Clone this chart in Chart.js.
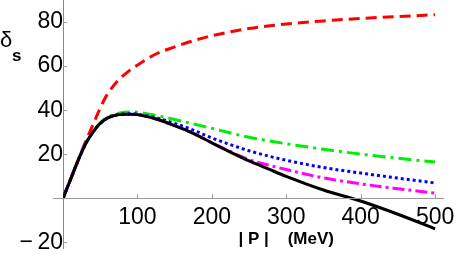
<!DOCTYPE html>
<html>
<head>
<meta charset="utf-8">
<script src="https://cdn.jsdelivr.net/npm/chart.js@4/dist/chart.umd.min.js"></script>
<style>
html,body{margin:0;padding:0;background:#fff;}
#wrap{width:456px;height:254px;position:relative;}
</style>
</head>
<body>
<div id="wrap"><canvas id="c" width="456" height="254"></canvas></div>
<script>
const momenta = [0,10,20,30,40,50,60,75,90,100,125,150,175,200,225,250,275,300,350,400,450,500];
const deltaBlack   = [0,8.5,17,24.5,30,34,36.5,38,38.2,38,36,33,29.5,25.2,21,17,13.5,10,3.8,-1.2,-7.2,-13.8];
const deltaRed     = [0,8.5,17,25.5,33.2,41,47.5,53.8,58.2,60.5,65.5,68.7,71.5,73.8,75.6,77.1,78.2,79.1,80.5,81.6,82.5,83.3];
const deltaGreen   = [0,8.5,17,24.5,30,34.2,36.8,38.6,39.2,39.1,37.6,35.8,33.8,31.8,29.7,27.7,26.2,24.8,22.3,20.1,18.2,16.5];
const deltaBlue    = [0,8.5,17,24.5,30,34,36.5,38.1,38.4,38.2,36.6,34,31,27.4,24.4,21.6,19.3,17.3,14,11.5,9.2,7];
const deltaMagenta = [0,8.5,17,24.5,30,34,36.5,38,38.2,38,36,33,29.5,25.2,21.2,17.6,15.2,13.1,9.3,6.6,4.4,2.4];
const xTickValues = [100,200,300,400,500];
const yTickValues = [-20,20,40,60,80];
const xTitle = '| P |    (MeV)';
const yTitleMain = 'δ';
const yTitleSub = 's';

function pts(ys){ return momenta.map((x,i)=>({x:x,y:ys[i]})); }
function ds(ys,color,dash){
  return {data:pts(ys),borderColor:color,borderWidth:3,borderDash:dash,pointRadius:0,
          fill:false,cubicInterpolationMode:'monotone',borderCapStyle:'butt'};
}
const FONT = '"Liberation Sans", Arial, Helvetica, sans-serif';

function noSpace(horizontal){
  return function(s){
    if (horizontal) s.height = 0; else s.width = 0;
    s.paddingTop = 0; s.paddingBottom = 0; s.paddingLeft = 0; s.paddingRight = 0;
  };
}

const decor = {
  id:'decor',
  afterDraw(chart){
    const ctx = chart.ctx, xs = chart.scales.x, ys = chart.scales.y;
    const x0 = xs.getPixelForValue(0), y0 = ys.getPixelForValue(0);
    ctx.save();
    ctx.strokeStyle = '#999'; ctx.lineWidth = 1;
    ctx.beginPath();
    ctx.moveTo(x0-10, Math.round(y0)+0.5); ctx.lineTo(chart.chartArea.right, Math.round(y0)+0.5);
    ys.ticks.forEach(t=>{ const p=Math.round(ys.getPixelForValue(t.value))+0.5; ctx.moveTo(x0,p); ctx.lineTo(x0+4,p); });
    xs.ticks.forEach(t=>{ const p=Math.round(xs.getPixelForValue(t.value))+0.5; ctx.moveTo(p,y0); ctx.lineTo(p,y0-4); });
    ctx.stroke();
    ctx.fillStyle = '#000';
    ctx.font = 'bold 17px ' + FONT;
    ctx.textAlign = 'center'; ctx.textBaseline = 'middle';
    ctx.fillText(xTitle, xs.getPixelForValue(300), chart.chartArea.bottom - 9);
    ctx.textAlign = 'left';
    ctx.font = '22px ' + FONT;
    ctx.fillText(yTitleMain, 0, ys.getPixelForValue(71.5));
    ctx.font = 'bold 17px ' + FONT;
    ctx.fillText(yTitleSub, 12, ys.getPixelForValue(64.5));
    ctx.restore();
  }
};

new Chart(document.getElementById('c'), {
  type:'line',
  data:{datasets:[
    ds(deltaBlack,'#000000',[]),
    ds(deltaMagenta,'#ff00ff',[12,4,3,4]),
    ds(deltaBlue,'#0000ff',[3,3]),
    ds(deltaGreen,'#00ee00',[13,5,3,5]),
    ds(deltaRed,'#ff0000',[11,6])
  ]},
  options:{
    responsive:false, animation:false, devicePixelRatio:1,
    layout:{padding:{left:63,right:12,top:0,bottom:6}},
    plugins:{legend:{display:false},tooltip:{enabled:false}},
    scales:{
      x:{type:'linear',min:0,max:512,position:{y:0},
         afterFit: noSpace(true),
         afterBuildTicks(s){ s.ticks = xTickValues.map(v=>({value:v})); },
         grid:{display:false},
         border:{display:false},
         ticks:{font:{family:FONT,size:23},color:'#000',padding:-3,maxRotation:0,autoSkip:false}},
      y:{type:'linear',min:-22.5,max:90,position:{x:0},
         afterFit: noSpace(false),
         afterBuildTicks(s){ s.ticks = yTickValues.map(v=>({value:v})); },
         grid:{display:false},
         border:{display:true,color:'#888',width:1},
         ticks:{font:{family:FONT,size:23},color:'#000',padding:8,autoSkip:false,
                callback:(v)=> v<0 ? '\u2212\u2009' + Math.abs(v) : String(v)}}
    }
  },
  plugins:[decor]
});
</script>
</body>
</html>
